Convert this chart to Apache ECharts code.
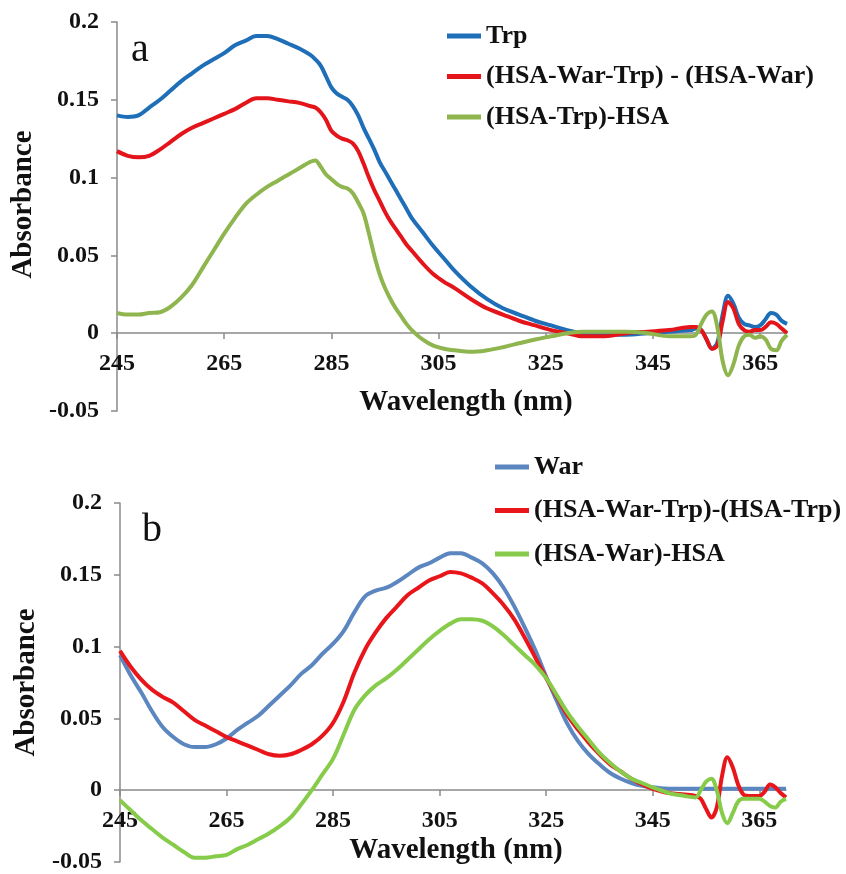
<!DOCTYPE html>
<html>
<head>
<meta charset="utf-8">
<script src="https://cdn.jsdelivr.net/npm/echarts@6/dist/echarts.min.js"></script>
<style>
html,body{margin:0;padding:0;background:#fff;}
#c{width:846px;height:874px;}
</style>
</head>
<body>
<div id="c"></div>
<script>
// ---------- Panel a ----------
const waveA = [245,247,249,251,253,255,257,259,261,263,265,267,269,271,273,275,277,279,281,282,283,284,285,286,287,288,289,290,291,292,293,294,295,296,297,298,299,300,302,304,306,308,311,314,317,320,323,326,329,332,336,340,344,348,352,353,354,355,356,357,358,359,360,361,362,363,364,365,366,367,368,369,370];
const trpA = [0.140,0.139,0.140,0.145,0.150,0.156,0.162,0.167,0.172,0.176,0.180,0.185,0.188,0.191,0.191,0.189,0.186,0.183,0.179,0.176,0.172,0.165,0.158,0.154,0.152,0.150,0.146,0.140,0.132,0.125,0.118,0.110,0.104,0.098,0.092,0.086,0.080,0.074,0.065,0.056,0.048,0.040,0.030,0.022,0.016,0.012,0.008,0.005,0.002,0.000,-0.001,-0.001,0.000,0.001,0.002,0.003,0.002,-0.004,-0.010,-0.006,0.012,0.024,0.019,0.010,0.006,0.005,0.004,0.005,0.009,0.013,0.012,0.008,0.006];
const diffWarA = [0.117,0.114,0.113,0.114,0.118,0.123,0.128,0.132,0.135,0.138,0.141,0.144,0.148,0.151,0.151,0.150,0.149,0.148,0.146,0.145,0.142,0.137,0.130,0.127,0.125,0.124,0.122,0.117,0.109,0.100,0.092,0.085,0.078,0.072,0.067,0.062,0.057,0.053,0.045,0.038,0.033,0.029,0.022,0.016,0.012,0.008,0.005,0.002,0.000,-0.002,-0.002,0.000,0.001,0.002,0.004,0.004,0.002,-0.004,-0.010,-0.008,0.008,0.020,0.016,0.006,0.002,0.001,0.002,0.002,0.004,0.007,0.006,0.003,0.000];
const hsaTrpA = [0.013,0.012,0.012,0.013,0.0135,0.017,0.023,0.031,0.042,0.053,0.064,0.074,0.083,0.089,0.094,0.098,0.102,0.106,0.110,0.111,0.107,0.102,0.099,0.096,0.094,0.093,0.090,0.084,0.077,0.064,0.050,0.038,0.029,0.022,0.016,0.011,0.006,0.002,-0.004,-0.008,-0.010,-0.011,-0.012,-0.011,-0.009,-0.0065,-0.004,-0.002,0.000,0.001,0.001,0.001,0.000,-0.002,-0.002,-0.001,0.006,0.012,0.014,0.004,-0.018,-0.027,-0.020,-0.008,-0.002,-0.001,-0.003,-0.002,-0.004,-0.010,-0.011,-0.005,-0.001];

// ---------- Panel b ----------
const waveB = [245,247,249,251,253,255,257,259,261,263,265,267,269,271,273,275,277,279,281,283,285,287,289,291,293,295,297,299,301,303,305,307,309,311,313,315,317,319,321,323,325,327,329,331,333,335,337,339,341,343,345,348,351,353,354,355,356,357,358,359,360,361,362,363,364,365,366,367,368,369,370];
const warB = [0.094,0.080,0.068,0.055,0.044,0.037,0.032,0.030,0.030,0.032,0.036,0.042,0.047,0.052,0.059,0.066,0.073,0.081,0.087,0.095,0.102,0.111,0.124,0.135,0.139,0.141,0.145,0.150,0.155,0.158,0.162,0.165,0.165,0.162,0.158,0.151,0.141,0.128,0.113,0.097,0.079,0.062,0.046,0.034,0.025,0.018,0.012,0.008,0.005,0.003,0.002,0.001,0.001,0.001,0.001,0.001,0.001,0.001,0.001,0.001,0.001,0.001,0.001,0.001,0.001,0.001,0.001,0.001,0.001,0.001,0.001];
const diffTrpB = [0.097,0.086,0.077,0.070,0.065,0.061,0.055,0.049,0.045,0.041,0.037,0.034,0.031,0.028,0.025,0.024,0.025,0.028,0.032,0.038,0.047,0.062,0.082,0.098,0.110,0.120,0.128,0.136,0.141,0.146,0.149,0.152,0.151,0.148,0.144,0.137,0.129,0.119,0.106,0.092,0.078,0.065,0.052,0.042,0.033,0.025,0.018,0.013,0.008,0.004,0.001,-0.002,-0.003,-0.004,-0.006,-0.013,-0.019,-0.012,0.010,0.023,0.016,0.004,-0.003,-0.004,-0.004,-0.004,-0.001,0.004,0.002,-0.002,-0.005];
const hsaWarB = [-0.007,-0.014,-0.021,-0.027,-0.033,-0.038,-0.043,-0.047,-0.047,-0.046,-0.045,-0.041,-0.038,-0.034,-0.030,-0.025,-0.019,-0.010,0.000,0.011,0.022,0.039,0.056,0.066,0.073,0.078,0.084,0.091,0.098,0.105,0.111,0.116,0.119,0.119,0.118,0.114,0.108,0.101,0.094,0.087,0.078,0.066,0.054,0.044,0.035,0.026,0.019,0.013,0.008,0.005,0.002,-0.002,-0.004,-0.005,0.000,0.006,0.008,0.000,-0.016,-0.023,-0.016,-0.008,-0.006,-0.006,-0.006,-0.006,-0.008,-0.011,-0.012,-0.008,-0.006];

const xTicks = [245,265,285,305,325,345,365];
const namesA = ['Trp','(HSA-War-Trp) - (HSA-War)','(HSA-Trp)-HSA'];
const namesB = ['War','(HSA-War-Trp)-(HSA-Trp)','(HSA-War)-HSA'];
const colorsA = ['#1E6EB8','#E3151B','#8FB54E'];
const colorsB = ['#5B86C0','#E8151B','#86CC4A'];

const FONT = '"Liberation Serif","Times New Roman",serif';
const axisColor = '#8a8a8a';

function pairs(xs, ys){ return xs.map((x,i)=>[x, ys[i]]); }

function xAxisCfg(gi, shift, gap, off){
  return {
    type:'value', gridIndex:gi, min:245, max:370, position:'bottom', offset:off,
    name:'Wavelength (nm)', nameLocation:'middle', nameGap:gap,
    nameTextStyle:{fontFamily:FONT, fontWeight:'bold', fontSize:29, color:'#111', padding:[0,0,0,shift]},
    axisLine:{onZero:false, lineStyle:{color:axisColor, width:1.5}},
    axisTick:{show:true, inside:false, length:6, customValues:xTicks, lineStyle:{color:axisColor, width:1.5}},
    axisLabel:{customValues:xTicks, margin:19, fontFamily:FONT, fontWeight:'bold', fontSize:24, color:'#111'},
    splitLine:{show:false}
  };
}
function yAxisCfg(gi, gap, pad){
  return {
    type:'value', gridIndex:gi, min:-0.05, max:0.2, interval:0.05,
    name:'Absorbance', nameLocation:'middle', nameGap:gap, nameRotate:90,
    nameTextStyle:{fontFamily:FONT, fontWeight:'bold', fontSize:29, color:'#111', padding:pad},
    axisLine:{show:true, lineStyle:{color:axisColor, width:1.5}},
    axisTick:{show:true, length:6, lineStyle:{color:axisColor, width:1.5}},
    axisLabel:{margin:18, fontFamily:FONT, fontWeight:'bold', fontSize:24, color:'#111'},
    splitLine:{show:false}
  };
}
function lineSeries(name, xi, data, color){
  return {
    name, type:'line', xAxisIndex:xi, yAxisIndex:xi, data, smooth:0.35,
    showSymbol:false, symbol:'none', color,
    lineStyle:{width:4, color}, z:3
  };
}

const chart = echarts.init(document.getElementById('c'), null, {renderer:'canvas'});
chart.setOption({
  backgroundColor:'#fff',
  animation:false,
  grid:[
    {left:117, top:22, width:670, height:389},
    {left:120, top:503, width:666, height:362}
  ],
  xAxis:[ xAxisCfg(0, 28, 55, -78), xAxisCfg(1, 6, 46, -72) ],
  yAxis:[ yAxisCfg(0, 77, [0,0,0,24]), yAxisCfg(1, 72, [0,0,0,0]) ],
  legend:[
    {data:namesA, orient:'vertical', left:442, top:18, icon:'rect', itemWidth:34, itemHeight:5, itemGap:14.5,
     textStyle:{fontFamily:FONT, fontWeight:'bold', fontSize:26, lineHeight:26, color:'#111'}},
    {data:namesB, orient:'vertical', left:490, top:449, icon:'rect', itemWidth:34, itemHeight:5, itemGap:17.5,
     textStyle:{fontFamily:FONT, fontWeight:'bold', fontSize:26, lineHeight:26, color:'#111'}}
  ],
  graphic:[
    {type:'text', left:131, top:30, style:{text:'a', font:'40px "Liberation Serif", serif', fill:'#111'}},
    {type:'text', left:142, top:510, style:{text:'b', font:'40px "Liberation Serif", serif', fill:'#111'}}
  ],
  series:[
    lineSeries(namesA[0], 0, pairs(waveA, trpA), colorsA[0]),
    lineSeries(namesA[1], 0, pairs(waveA, diffWarA), colorsA[1]),
    lineSeries(namesA[2], 0, pairs(waveA, hsaTrpA), colorsA[2]),
    lineSeries(namesB[0], 1, pairs(waveB, warB), colorsB[0]),
    lineSeries(namesB[1], 1, pairs(waveB, diffTrpB), colorsB[1]),
    lineSeries(namesB[2], 1, pairs(waveB, hsaWarB), colorsB[2])
  ]
});
</script>
</body>
</html>
